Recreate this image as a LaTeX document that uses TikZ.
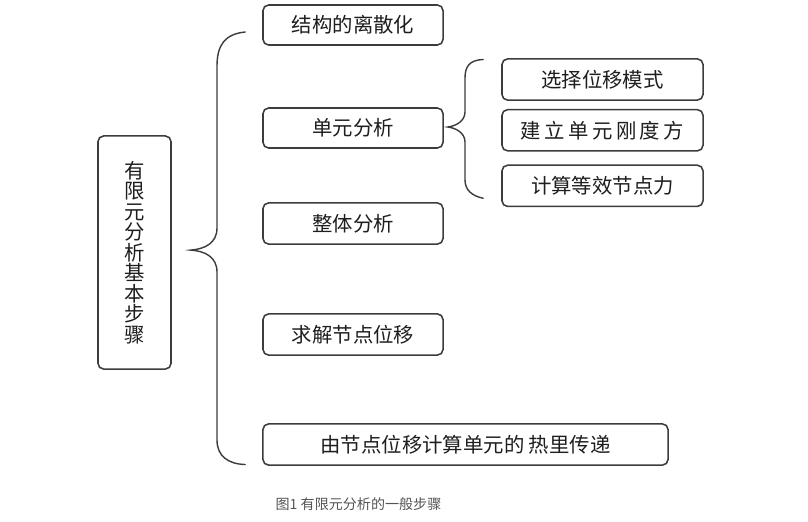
\documentclass[tikz,border=0pt]{standalone}
\usepackage{fontspec}
\newfontfamily\cjk{Noto Sans CJK SC}
\usetikzlibrary{positioning}
\definecolor{Ink}{HTML}{1E1E1E}
\definecolor{Edge}{HTML}{3C3C3C}
\definecolor{CapGray}{HTML}{555555}

\begin{document}
\begin{tikzpicture}[
  x=0.025cm, y=-0.025cm,
  stepbox/.style={draw=Edge, line width=1.1pt, rounded corners=4pt, fill=white,
                  minimum width=4.5cm, minimum height=1.0cm, inner sep=0pt,
                  align=center, text=Ink, font=\cjk\fontsize{14.5}{16}\selectfont},
  subbox/.style={stepbox, minimum width=5.025cm, minimum height=1.03cm},
  brace/.style={draw=Edge, line width=1.0pt, line cap=round}
]
  \useasboundingbox[fill=white] (0,0) rectangle (808,521);

  % title box
  \node[stepbox, minimum width=1.825cm, minimum height=5.825cm,
        font=\cjk\fontsize{14.5}{14.6}\selectfont] (fem) at (134.5,252.5)
        {有\\限\\元\\分\\析\\基\\本\\步\\骤};

  % main steps
  \node[stepbox] (mesh)  at (353,25)    {结构的离散化};
  \node[stepbox] (elem)  at (353,128)   {单元分析};
  \node[stepbox, minimum height=1.03cm] (glob) at (353,223.5) {整体分析};
  \node[stepbox, minimum height=1.03cm] (solve) at (353,334.5) {求解节点位移};
  \node[stepbox, minimum width=10.125cm, minimum height=1.03cm] (heat) at (465.5,444.5)
        {由节点位移计算单元的 热里传递};

  % element analysis sub-steps
  \node[subbox] (disp) at (602.5,79.5) {选择位移模式};
  \node[subbox, below=0.2cm of disp]  (stiff) {建\,立\,单\,元\,刚\,度\,方};
  \node[subbox, below=0.32cm of stiff] (force) {计算等效节点力};

  % big brace
  \coordinate (bigtip) at ([xshift=0.475cm, yshift=0.06cm]fem.east);
  \coordinate (bigtop) at ([xshift=-0.425cm, yshift=-0.175cm]mesh.west);
  \coordinate (bigbot) at ([xshift=-0.425cm, yshift=-0.5cm]heat.west);
  \draw[brace] (bigtop) .. controls (225,34) and (217,45) .. (217,66)
    -- (217,228) .. controls (217,243) and (205,249) .. (bigtip)
    .. controls (205,251) and (217,257) .. (217,272)
    -- (217,440) .. controls (217,456) and (228,464) .. (bigbot);

  % small brace
  \coordinate (smtip) at ([xshift=0.1cm, yshift=0.025cm]elem.east);
  \coordinate (smtop) at ([xshift=-0.45cm, yshift=0.5cm]disp.west);
  \coordinate (smbot) at ([xshift=-0.45cm, yshift=-0.31cm]force.west);
  \draw[brace] (smtop) .. controls (470,60) and (465,66) .. (465,78)
    -- (465,112) .. controls (465,121) and (456,126) .. (smtip)
    .. controls (456,128) and (465,133) .. (465,142)
    -- (465,180) .. controls (465,190) and (472,196) .. (smbot);

  % caption
  \node[text=CapGray, font=\cjk\fontsize{10}{12}\selectfont] (cap) at (358.5,504)
        {图1 有限元分析的一般步骤};
\end{tikzpicture}
\end{document}
